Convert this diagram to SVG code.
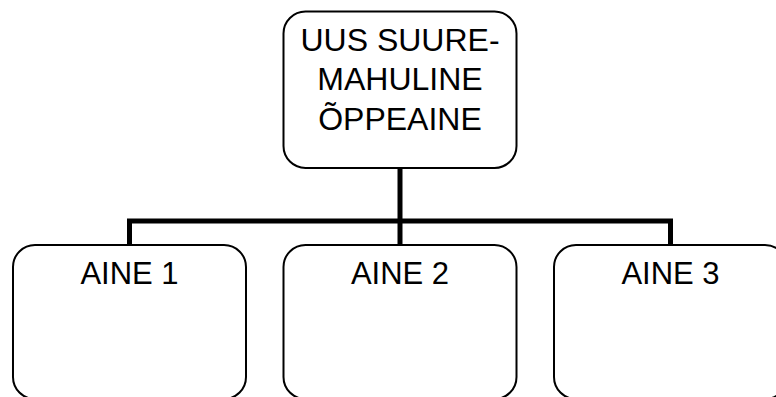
<svg xmlns="http://www.w3.org/2000/svg" width="776" height="397" viewBox="0 0 776 397">
<style>
.node{fill:#fff;stroke:#000;stroke-width:2}
.lbl{font-family:"Liberation Sans",Arial,sans-serif;font-size:31px;fill:#000;text-anchor:middle}
.big{font-size:32px}
.conn{fill:none;stroke:#000;stroke-width:5;stroke-linejoin:miter;stroke-linecap:butt}
</style>
<rect width="776" height="397" fill="#fff"/>
<g id="connectors">
<path class="conn" d="M400 167.5V221"/>
<path class="conn" d="M129.5 245V221H670.5V245"/>
<path class="conn" d="M400 221V245"/>
</g>
<g id="root">
<rect class="node" x="283.5" y="11.5" width="233" height="156.5" rx="22" ry="22"/>
<text class="lbl big" x="400" y="51">UUS SUURE-</text>
<text class="lbl big" x="400" y="90">MAHULINE</text>
<text class="lbl big" x="400" y="129.5">ÕPPEAINE</text>
</g>
<g id="aine1">
<rect class="node" x="13" y="245" width="233" height="154" rx="22" ry="22"/>
<text class="lbl" x="129.5" y="283.5">AINE 1</text>
</g>
<g id="aine2">
<rect class="node" x="283.5" y="245" width="233" height="154" rx="22" ry="22"/>
<text class="lbl" x="400" y="283.5">AINE 2</text>
</g>
<g id="aine3">
<rect class="node" x="554" y="245" width="233" height="154" rx="22" ry="22"/>
<text class="lbl" x="670.5" y="283.5">AINE 3</text>
</g>
</svg>
